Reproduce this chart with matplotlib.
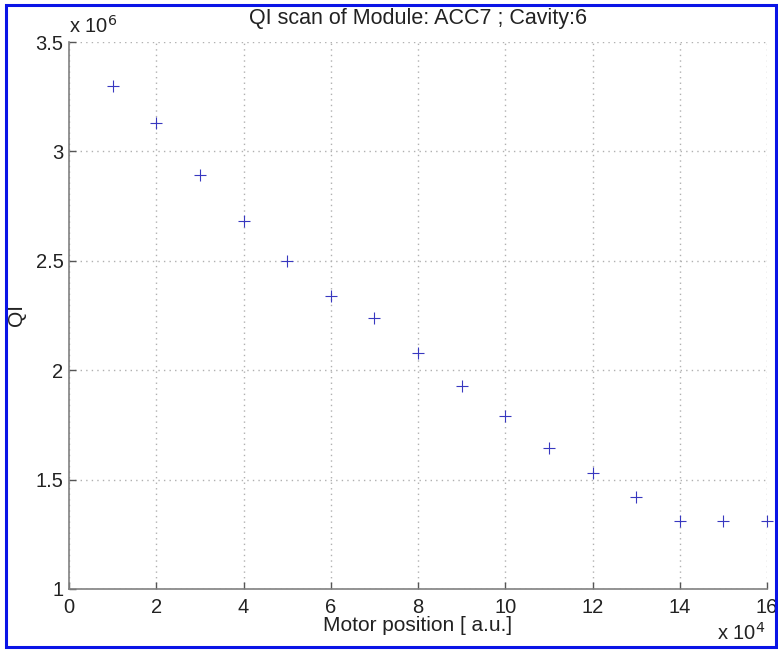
import matplotlib
matplotlib.use("Agg")
import matplotlib.pyplot as plt
from matplotlib.ticker import FuncFormatter, MultipleLocator
from matplotlib.patches import Rectangle

plt.rcParams['font.family'] = ['Liberation Sans', 'DejaVu Sans']

# Motor position (units of 1e4) and loaded Q (units of 1e6)
motor_pos = [1, 2, 3, 4, 5, 6, 7, 8, 9, 10, 11, 12, 13, 14, 15, 16]
ql_values = [3.30, 3.13, 2.89, 2.68, 2.50, 2.34, 2.24, 2.08, 1.93, 1.79,
             1.645, 1.53, 1.42, 1.31, 1.31, 1.31]

x = [m * 1e4 for m in motor_pos]
y = [q * 1e6 for q in ql_values]

W, H = 778, 651
fig = plt.figure(figsize=(W / 100, H / 100), dpi=100)
ax = fig.add_axes([69 / W, 1 - 589 / H, (767 - 69) / W, (589 - 42) / H])

ax.plot(x, y, linestyle='none', marker='+', markersize=9, markeredgewidth=0.8,
        color='#3838c0', clip_on=False)

ax.set_xlim(0, 16e4)
ax.set_ylim(1e6, 3.5e6)
ax.xaxis.set_major_locator(MultipleLocator(2e4))
ax.yaxis.set_major_locator(MultipleLocator(0.5e6))
ax.xaxis.set_major_formatter(FuncFormatter(lambda v, p: f'{v / 1e4:g}'))
ax.yaxis.set_major_formatter(FuncFormatter(lambda v, p: f'{v / 1e6:g}'))

for side in ('top', 'right'):
    ax.spines[side].set_visible(False)
for side in ('left', 'bottom'):
    ax.spines[side].set_color('#808080')
    ax.spines[side].set_linewidth(1.2)

ax.tick_params(direction='in', length=5, width=1, color='#555555',
               labelsize=14.5, labelcolor='#222222')
ax.tick_params(axis='x', pad=6.5)
ax.tick_params(axis='y', pad=4)
ax.grid(True, linestyle=(0, (1, 3)), color='#b0b0b0', linewidth=1)

ax.set_title('QI scan of Module: ACC7 ; Cavity:6', fontsize=15.5, color='#222222', pad=13)
ax.set_xlabel('Motor position [ a.u.]', fontsize=15, color='#222222')
ax.xaxis.set_label_coords(0.5, (589 - 616) / 547)
ax.set_ylabel('QI', fontsize=15, color='#222222')
ax.yaxis.set_label_coords((26 - 69) / 698, 0.5)

fig.text(69 / W, 1 - 33 / H, r'x 10$^{6}$', fontsize=14.5, color='#222222',
         ha='left', va='baseline')
fig.text(765 / W, 1 - 640 / H, r'x 10$^{4}$', fontsize=14.5, color='#222222',
         ha='right', va='baseline')

fig.patches.append(Rectangle((5.5 / W, 1 - 647 / H), (775.5 - 5.5) / W, (647 - 4.5) / H,
                             transform=fig.transFigure, fill=False,
                             edgecolor='#0a14e6', linewidth=2.2))

fig.savefig('out.png', dpi=100)
